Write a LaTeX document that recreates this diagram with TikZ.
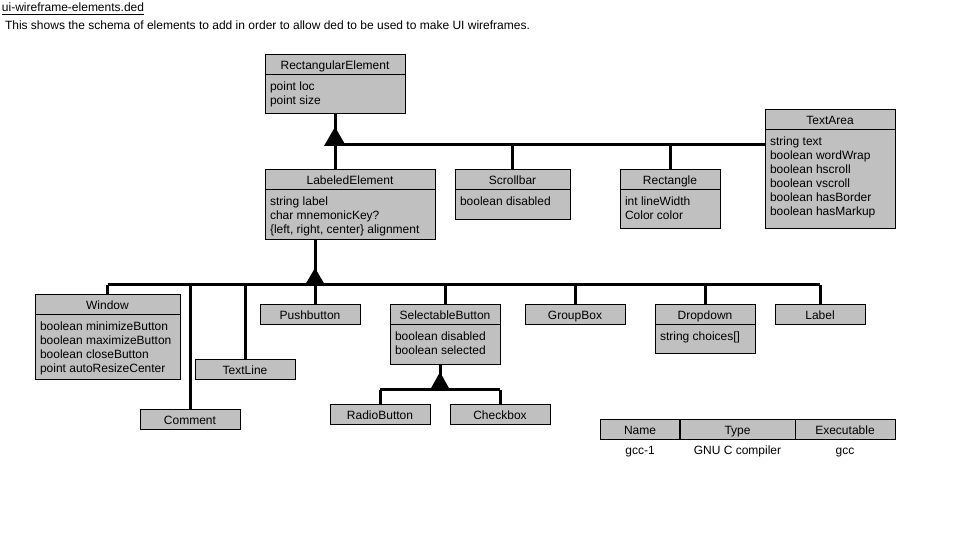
\documentclass[tikz,border=0pt]{standalone}
\usepackage{fontspec}
\setmainfont{Liberation Sans}
\usetikzlibrary{calc}
\definecolor{boxgray}{HTML}{C0C0C0}

% class box: name, x, y, width, height, title, attribute lines
\newcommand\umlclass[7]{%
  \node[classbox, anchor=north west, minimum width={#4*0.75pt}, minimum height={#5*0.75pt}] (#1) at (#2,#3) {};
  \node[anchor=base] (#1t) at ($(#1.north)+(0,15)$) {#6};
  \draw[sepline] ($(#1.north west)+(0,20)$) -- ($(#1.north east)+(0,20)$);
  \node[attrs, anchor=north west] (#1a) at ($(#1.north west)+(5,25.8)$) {\strut #7};
}
% class box with a title only: name, x, y, width, title
\newcommand\umlplain[5]{%
  \node[classbox, anchor=north west, minimum width={#4*0.75pt}, minimum height=15pt] (#1) at (#2,#3) {};
  \node[anchor=base] (#1t) at ($(#1.north)+(0,15)$) {#5};
}
% table column: name, x, width, heading, value
\newcommand\tablecol[5]{%
  \node[classbox, anchor=north west, minimum width={#3*0.75pt}, minimum height=15pt] (#1) at (#2,420) {};
  \node[anchor=base] (#1t) at ($(#1.north)+(0,15)$) {#4};
  \node[anchor=base] (#1v) at ($(#1.south)+(0,15)$) {#5};
}

\begin{document}
\begin{tikzpicture}[x=0.75pt,y=-0.75pt,
  every node/.style={font=\fontsize{9}{10.5}\selectfont, inner sep=0pt, outer sep=0pt},
  classbox/.style={draw=black, fill=boxgray, line width=0.75pt, rectangle},
  sepline/.style={line width=0.75pt},
  link/.style={line width=2.25pt},
  attrs/.style={align=left},
  tri/.style={fill=black}]

\useasboundingbox[fill=white] (0,0) rectangle (964,548);

% heading
\node[anchor=base west] (doctitle) at (2,12) {\underline{ui-wireframe-elements.ded}};
\node[anchor=base west] (docnote) at (5,30) {This shows the schema of elements to add in order to allow ded to be used to make UI wireframes.};

% junction points of the inheritance buses
\coordinate (j1) at (335,145);
\coordinate (j2) at (315,285);
\coordinate (j3) at (440,390);

% classes
\umlclass{rect}{265}{55}{140}{59}{RectangularElement}{point loc\\point size}
\umlclass{lab}{265}{170}{170}{70}{LabeledElement}{string label\\char mnemonicKey?\\\{left, right, center\} alignment}
\umlclass{scroll}{455}{170}{115}{50}{Scrollbar}{boolean disabled}
\umlclass{rectangle}{620}{170}{100}{59}{Rectangle}{int lineWidth\\Color color}
\umlclass{textarea}{765}{110}{130}{119}{TextArea}{string text\\boolean wordWrap\\boolean hscroll\\boolean vscroll\\boolean hasBorder\\boolean hasMarkup}

\umlclass{window}{35}{295}{145}{85}{Window}{boolean minimizeButton\\boolean maximizeButton\\boolean closeButton\\point autoResizeCenter}
\umlplain{comment}{140}{410}{100}{Comment}
\umlplain{textline}{195}{360}{100}{TextLine}
\umlplain{push}{260}{305}{100}{Pushbutton}
\umlclass{select}{390}{305}{110}{60}{SelectableButton}{boolean disabled\\boolean selected}
\umlplain{group}{525}{305}{100}{GroupBox}
\umlclass{drop}{655}{305}{100}{49}{Dropdown}{string choices[]}
\umlplain{label}{775}{305}{90}{Label}

\umlplain{radio}{330}{405}{100}{RadioButton}
\umlplain{check}{450}{405}{100}{Checkbox}

% inheritance from RectangularElement
\draw[link] (rect.south) -- (j1);
\draw[link] (j1) -- (j1 |- lab.north);
\draw[link] (j1) -- (j1 -| textarea.west);
\draw[link] (scroll.north) -- (scroll.north |- j1);
\draw[link] (rectangle.north) -- (rectangle.north |- j1);
\fill[tri] ($(j1)+(-11,1)$) -- ($(j1)+(0,-18)$) -- ($(j1)+(11,1)$) -- cycle;

% inheritance from LabeledElement
\draw[link] (j2 |- lab.south) -- (j2);
\draw[link] (j2) -- (j2 |- push.north);
\draw[link] (window.north |- j2) -- (label.north |- j2);
\draw[link] (window.north) -- (window.north |- j2);
\draw[link] (comment.north) -- (comment.north |- j2);
\draw[link] (textline.north) -- (textline.north |- j2);
\draw[link] (select.north) -- (select.north |- j2);
\draw[link] (group.north) -- (group.north |- j2);
\draw[link] (drop.north) -- (drop.north |- j2);
\draw[link] (label.north) -- (label.north |- j2);
\fill[tri] ($(j2)+(-10,0)$) -- ($(j2)+(0,-17)$) -- ($(j2)+(10,0)$) -- cycle;

% inheritance from SelectableButton
\draw[link] (j3 |- select.south) -- (j3);
\draw[link] (radio.north |- j3) -- (check.north |- j3);
\draw[link] (radio.north) -- (radio.north |- j3);
\draw[link] (check.north) -- (check.north |- j3);
\fill[tri] ($(j3)+(-10,0)$) -- ($(j3)+(0,-18)$) -- ($(j3)+(10,0)$) -- cycle;

% redraw boxes' outlines over connector ends
\foreach \b in {rect,lab,scroll,rectangle,textarea,window,comment,textline,push,select,group,drop,label,radio,check}
  \draw[line width=0.75pt] (\b.north west) rectangle (\b.south east);

% tool table
\tablecol{colname}{600}{80}{Name}{gcc-1}
\tablecol{coltype}{680}{115}{Type}{GNU C compiler}
\tablecol{colexec}{795}{100}{Executable}{gcc}
\draw[line width=1.5pt] (colname.north east) -- (colname.south east);

\end{tikzpicture}
\end{document}
